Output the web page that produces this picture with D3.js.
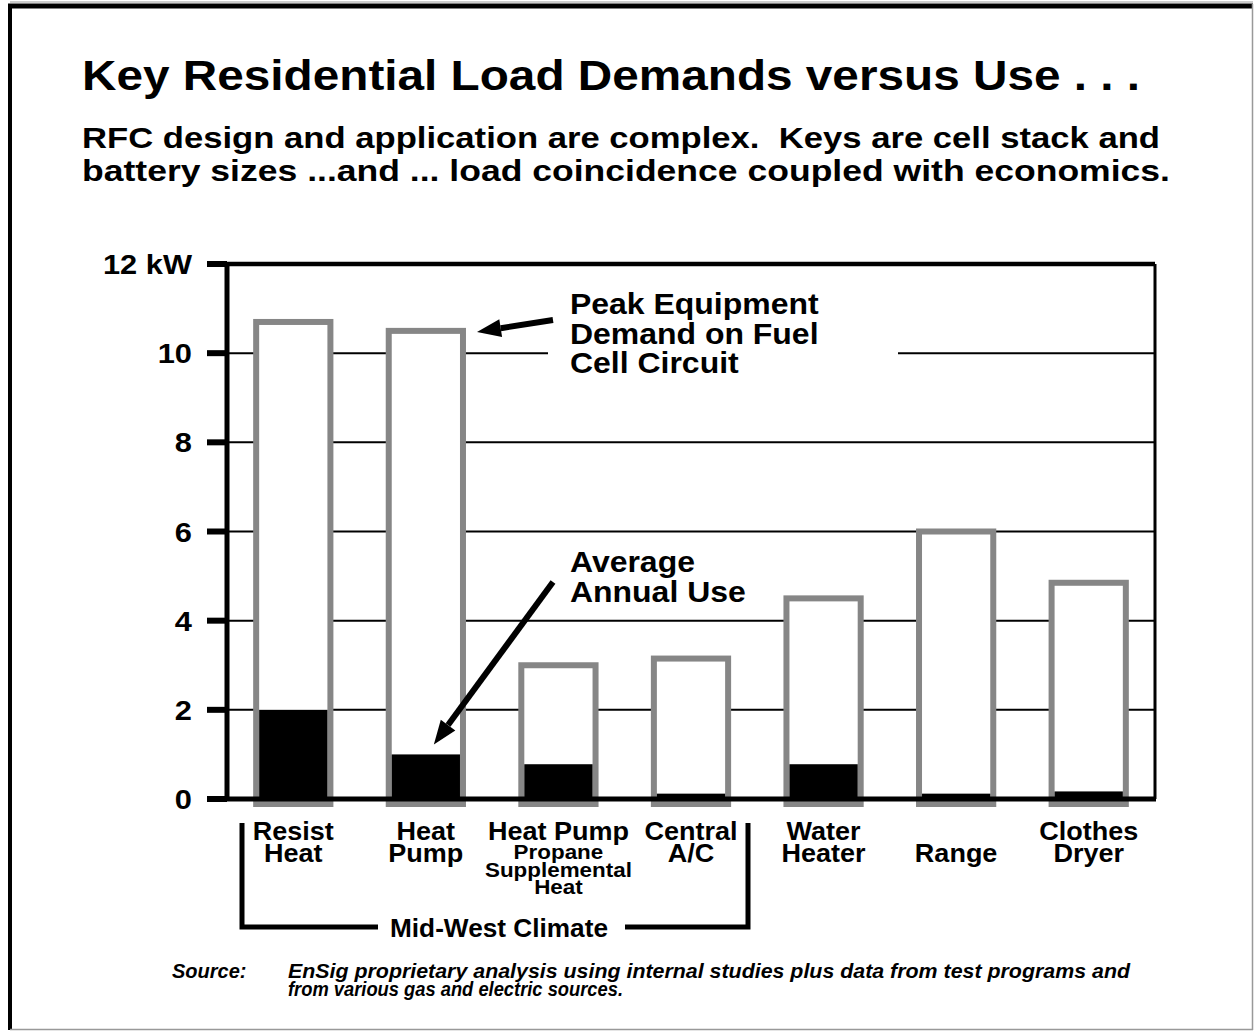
<!DOCTYPE html>
<html>
<head>
<meta charset="utf-8">
<script src="https://cdn.jsdelivr.net/npm/d3@7"></script>
<style>
  html, body { margin: 0; padding: 0; background: #fff; }
  svg { display: block; }
  text { font-family: "Liberation Sans", Arial, Helvetica, sans-serif; font-weight: bold; fill: #000; }
</style>
</head>
<body>
<svg id="chart" width="1255" height="1032"></svg>
<script>
// Appliance categories (label lines) and their loads in kW
const categories = ["Resist Heat", "Heat Pump", "Heat Pump Propane", "Central A/C", "Water Heater", "Range", "Clothes Dryer"];
const labelMain = [["Resist", "Heat"], ["Heat", "Pump"], ["Heat Pump"], ["Central", "A/C"], ["Water", "Heater"], ["", "Range"], ["Clothes", "Dryer"]];
const labelSub = [[], [], ["Propane", "Supplemental", "Heat"], [], [], [], []];
const peakDemand = [10.7, 10.5, 3.0, 3.15, 4.5, 6.0, 4.85];
const averageUse = [2.0, 1.0, 0.78, 0.12, 0.78, 0.12, 0.17];
const yTicks = [0, 2, 4, 6, 8, 10, 12];
const yTickLabels = ["0", "2", "4", "6", "8", "10", "12 kW"];

const svg = d3.select("#chart");

// Widen a text horizontally (the slide type is set slightly expanded)
function stretch(sel, k) {
  sel.each(function () {
    const w = this.getComputedTextLength();
    d3.select(this).attr("textLength", w * k).attr("lengthAdjust", "spacingAndGlyphs");
  });
  return sel;
}
function fitTo(sel, width) {
  return sel.attr("textLength", width).attr("lengthAdjust", "spacingAndGlyphs");
}

// Page frame: heavy top/left rule, light right/bottom rule
svg.append("line").attr("x1", 10).attr("x2", 1253).attr("y1", 2).attr("y2", 2).attr("stroke", "#999").attr("stroke-width", 1);
svg.append("line").attr("x1", 8).attr("x2", 1253).attr("y1", 6).attr("y2", 6).attr("stroke", "#000").attr("stroke-width", 5);
svg.append("line").attr("x1", 10).attr("x2", 10).attr("y1", 4).attr("y2", 1030).attr("stroke", "#000").attr("stroke-width", 4);
svg.append("line").attr("x1", 1252.5).attr("x2", 1252.5).attr("y1", 4).attr("y2", 1030).attr("stroke", "#999").attr("stroke-width", 1.5);
svg.append("line").attr("x1", 10).attr("x2", 1253).attr("y1", 1029.5).attr("y2", 1029.5).attr("stroke", "#999").attr("stroke-width", 1.5);

// Titles
fitTo(svg.append("text").attr("x", 82).attr("y", 90).attr("font-size", 42)
  .text("Key Residential Load Demands versus Use . . ."), 1058);
fitTo(svg.append("text").attr("x", 82).attr("y", 148).attr("font-size", 29.5).attr("xml:space", "preserve")
  .text("RFC design and application are complex.  Keys are cell stack and"), 1078);
fitTo(svg.append("text").attr("x", 82).attr("y", 181).attr("font-size", 29.5)
  .text("battery sizes ...and ... load coincidence coupled with economics."), 1088);

// Scales
const plotLeft = 227, plotRight = 1155, plotTop = 264, plotBottom = 799;
const x = d3.scaleBand().domain(categories).range([plotLeft, plotRight]).paddingInner(0.44).paddingOuter(0.22);
const y = d3.scaleLinear().domain([0, 12]).range([plotBottom, plotTop]);

const plot = svg.append("g");

// Horizontal grid lines (2..10), top rule at 12
plot.selectAll("line.grid").data(yTicks.filter(d => d > 0 && d < 12)).join("line")
  .attr("class", "grid")
  .attr("x1", plotLeft).attr("x2", plotRight)
  .attr("y1", d => y(d)).attr("y2", d => y(d))
  .attr("stroke", "#000").attr("stroke-width", 2);
plot.append("line").attr("x1", plotLeft).attr("x2", plotRight).attr("y1", y(12)).attr("y2", y(12))
  .attr("stroke", "#000").attr("stroke-width", 4.5);
// Right frame of plot
plot.append("line").attr("x1", plotRight).attr("x2", plotRight).attr("y1", y(12)).attr("y2", y(0))
  .attr("stroke", "#000").attr("stroke-width", 3);

// Knockout behind the peak-demand callout
plot.append("rect").attr("x", 548).attr("y", 288).attr("width", 350).attr("height", 92).attr("fill", "#fff");

// Peak demand bars (grey outline, white interior)
const bw = x.bandwidth();
plot.selectAll("rect.peak").data(categories).join("rect")
  .attr("class", "peak")
  .attr("x", d => x(d))
  .attr("y", (d, i) => y(peakDemand[i]))
  .attr("width", bw)
  .attr("height", (d, i) => y(0) + 5 - y(peakDemand[i]))
  .attr("fill", "#fff").attr("stroke", "#868686").attr("stroke-width", 6);

// Average annual use (black fill inside each bar)
plot.selectAll("rect.avg").data(categories).join("rect")
  .attr("class", "avg")
  .attr("x", d => x(d) + 3)
  .attr("y", (d, i) => y(averageUse[i]))
  .attr("width", bw - 6)
  .attr("height", (d, i) => y(0) - y(averageUse[i]))
  .attr("fill", "#000");

// Y axis line, baseline and tick marks
plot.append("line").attr("x1", plotLeft).attr("x2", plotLeft).attr("y1", y(12) - 2).attr("y2", y(0) + 2)
  .attr("stroke", "#000").attr("stroke-width", 5);
plot.append("line").attr("x1", 207).attr("x2", plotRight + 1).attr("y1", y(0)).attr("y2", y(0))
  .attr("stroke", "#000").attr("stroke-width", 5);
plot.selectAll("line.tick").data(yTicks).join("line")
  .attr("class", "tick")
  .attr("x1", 207).attr("x2", plotLeft)
  .attr("y1", d => y(d)).attr("y2", d => y(d))
  .attr("stroke", "#000").attr("stroke-width", 6);
stretch(plot.selectAll("text.ytick").data(yTicks).join("text")
  .attr("class", "ytick")
  .attr("x", 192).attr("y", d => y(d) + 10)
  .attr("text-anchor", "end").attr("font-size", 28).attr("xml:space", "preserve")
  .text((d, i) => yTickLabels[i]), 1.1);

// Category labels
const cx = d => x(d) + bw / 2;
categories.forEach((c, i) => {
  labelMain[i].forEach((t, j) => {
    if (!t) return;
    stretch(svg.append("text").attr("x", cx(c)).attr("y", 840 + j * 22).attr("text-anchor", "middle")
      .attr("font-size", 25).text(t), 1.08);
  });
  labelSub[i].forEach((t, j) => {
    stretch(svg.append("text").attr("x", cx(c)).attr("y", 859 + j * 17.5).attr("text-anchor", "middle")
      .attr("font-size", 20).text(t), 1.12);
  });
});

// Mid-West Climate bracket
const bl = 242, br = 748, by = 927;
const bracket = svg.append("g").attr("stroke", "#000").attr("stroke-width", 5).attr("fill", "none");
bracket.append("path").attr("d", `M${bl},823 V${by} H378`);
bracket.append("path").attr("d", `M${br},823 V${by} H625`);
fitTo(svg.append("text").attr("x", 499).attr("y", 937).attr("text-anchor", "middle")
  .attr("font-size", 26).text("Mid-West Climate"), 218);

// Callouts with arrows
function arrow(x1, y1, x2, y2) {
  const ang = Math.atan2(y2 - y1, x2 - x1);
  const L = 24, W = 9;
  const bx = x2 - L * Math.cos(ang), by2 = y2 - L * Math.sin(ang);
  svg.append("line").attr("x1", x1).attr("y1", y1).attr("x2", bx).attr("y2", by2)
    .attr("stroke", "#000").attr("stroke-width", 6);
  const p = [
    [x2, y2],
    [bx + W * Math.sin(ang), by2 - W * Math.cos(ang)],
    [bx - W * Math.sin(ang), by2 + W * Math.cos(ang)]
  ];
  svg.append("path").attr("d", "M" + p.map(q => q.join(",")).join("L") + "Z").attr("fill", "#000");
}
const hp = categories[1];
arrow(553, 320, x(hp) + bw + 14, y(peakDemand[1]) + 1);
arrow(553, 582, cx(hp) + 8, y(averageUse[1]) - 10);

const peakNote = ["Peak Equipment", "Demand on Fuel", "Cell Circuit"];
peakNote.forEach((t, j) => stretch(svg.append("text").attr("x", 570).attr("y", 314 + j * 29.5)
  .attr("font-size", 30).text(t), 1.065));
const avgNote = ["Average", "Annual Use"];
avgNote.forEach((t, j) => stretch(svg.append("text").attr("x", 570).attr("y", 572 + j * 29.5)
  .attr("font-size", 30).text(t), 1.065));

// Source note (condensed oblique)
const srcLines = ["EnSig proprietary analysis using internal studies plus data from test programs and",
                  "from various gas and electric sources."];
svg.append("text").attr("x", 172).attr("y", 978).attr("font-size", 20).style("font-style", "italic").text("Source:");
fitTo(svg.append("text").attr("x", 288).attr("y", 978).attr("font-size", 20).style("font-style", "italic").text(srcLines[0]), 842);
fitTo(svg.append("text").attr("x", 288).attr("y", 996).attr("font-size", 20).style("font-style", "italic").text(srcLines[1]), 335);
</script>
</body>
</html>
